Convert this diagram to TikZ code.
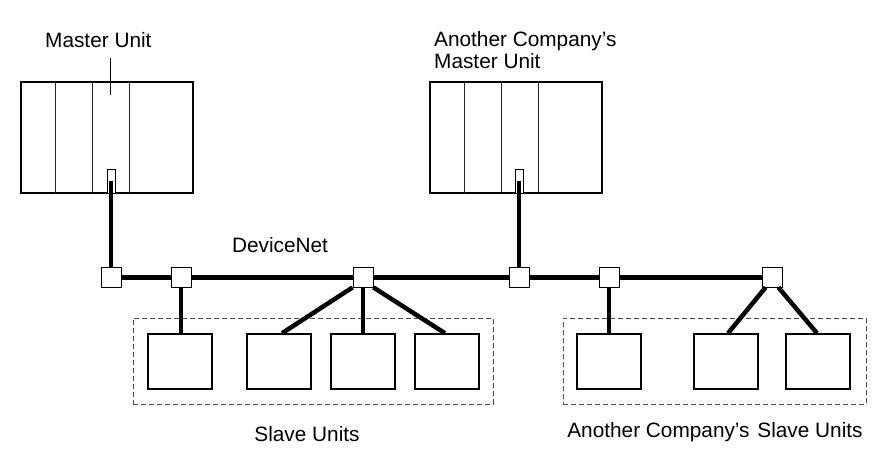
\documentclass[tikz,border=0pt]{standalone}
\usepackage{fontspec}
\setmainfont{Liberation Sans}
\begin{document}
\begin{tikzpicture}[x=1pt,y=-1pt,
  unit/.style={draw, line width=2pt, minimum width=172pt, minimum height=111pt, inner sep=0pt},
  divider/.style={line width=0.8pt, draw=black!85},
  port/.style={draw, fill=white, line width=0.7pt, minimum width=8pt, minimum height=24pt, inner sep=0pt},
  tap/.style={draw, fill=white, line width=0.8pt, minimum size=20pt, inner sep=0pt},
  slave/.style={draw, line width=1.5pt, minimum width=64pt, minimum height=55pt, inner sep=0pt},
  cable/.style={line width=5pt},
  branch/.style={line width=4.5pt},
  grp/.style={draw=black!70, line width=0.8pt, dash pattern=on 5pt off 3pt, inner sep=0pt},
  lbl/.style={font=\fontsize{20.8}{22}\selectfont, inner sep=0pt},
  leader/.style={line width=0.7pt}]
\useasboundingbox (0,0) rectangle (891,465);
% master units
\node[unit] (m1) at (107,137.5) {};
\node[unit] (m2) at (516,137.5) {};
\foreach \x in {55,92,129} \draw[divider] (\x,82) -- (\x,193);
\foreach \x in {464,501,538} \draw[divider] (\x,82) -- (\x,193);
\node[port] (p1) at (111,181) {};
\node[port] (p2) at (519,181) {};
% taps
\node[tap] (t1) at (111,277) {};
\node[tap] (t2) at (181,277) {};
\node[tap] (t3) at (363,277) {};
\node[tap] (t4) at (519,277) {};
\node[tap] (t5) at (609,277) {};
\node[tap] (t6) at (772,277) {};
% slave units
\node[slave] (s1) at (180,361.5) {};
\node[slave] (s2) at (279,361.5) {};
\node[slave] (s3) at (363,361.5) {};
\node[slave] (s4) at (447,361.5) {};
\node[slave] (s5) at (609,361.5) {};
\node[slave] (s6) at (726,361.5) {};
\node[slave] (s7) at (818,361.5) {};
% groups
\node[grp, minimum width=360pt, minimum height=86pt] (g1) at (313,361) {};
\node[grp, minimum width=303pt, minimum height=86pt] (g2) at (714.5,361) {};
% cables
\draw[cable] (t1) -- (t2);
\draw[cable] (t2) -- (t3);
\draw[cable] (t3) -- (t4);
\draw[cable] (t4) -- (t5);
\draw[cable] (t5) -- (t6);
\draw[branch] (t1.north) -- (p1.center);
\draw[branch] (t4.north) -- (p2.center);
\draw[branch] (t2) -- (t2 |- s1.north);
\draw[branch] (t3.south west) -- ([xshift=3pt]s2.north);
\draw[branch] (t3) -- (s3.north);
\draw[branch] (t3.south east) -- ([xshift=-2pt]s4.north);
\draw[branch] (t5) -- (s5.north);
\draw[branch] ([xshift=4pt]t6.south west) -- ([xshift=2pt]s6.north);
\draw[branch] ([xshift=-4pt]t6.south east) -- ([xshift=-1pt]s7.north);
% labels
\node[lbl, anchor=west] (lm1) at (45,40) {Master Unit};
\coordinate (lead) at (110,95);
\draw[leader] (110,58) -- (lead);
\node[lbl, anchor=west, align=left] (lm2) at (434,50) {Another Company’s\\Master Unit};
\node[lbl] (ldn) at (280,245) {DeviceNet};
\node[lbl] (lsu) at (307,434) {Slave Units};
\node[lbl] (lasu) at (715,432) {Another Company’s\hspace{2pt} Slave Units};
\end{tikzpicture}
\end{document}
